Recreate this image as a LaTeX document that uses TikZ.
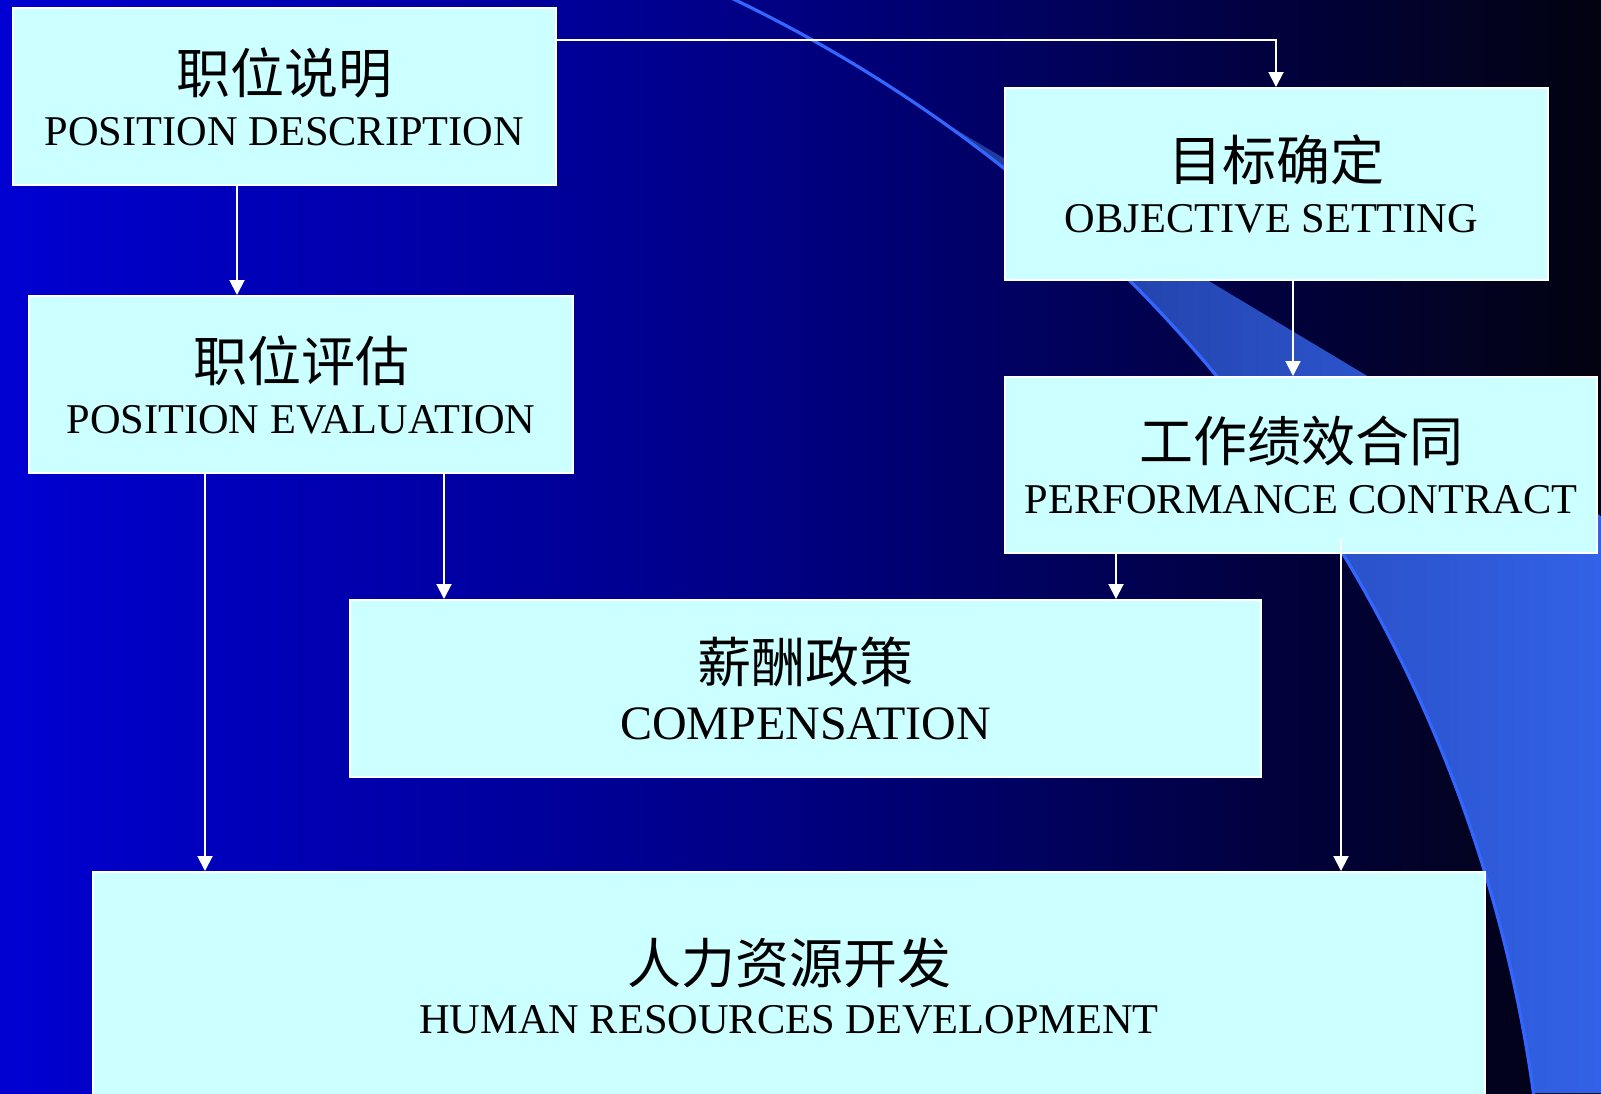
\documentclass[tikz,border=0pt]{standalone}
\usepackage{fontspec}
\setmainfont{Liberation Serif}
\newfontfamily\cjk{Noto Sans CJK SC}
\usetikzlibrary{arrows.meta}
\definecolor{bgA}{RGB}{0,0,210}
\definecolor{bgB}{RGB}{0,0,128}
\definecolor{bgC}{RGB}{2,2,16}
\definecolor{swL}{RGB}{30,56,150}
\definecolor{swR}{RGB}{50,98,232}
\definecolor{arcline}{RGB}{51,102,255}
\definecolor{boxfill}{RGB}{204,255,255}
\newcommand\zh[1]{{\cjk\fontsize{27}{27}\selectfont #1}}
\begin{document}
\begin{tikzpicture}[x=0.5pt,y=-0.5pt,
  box/.style={draw=white, line width=1pt, fill=boxfill, inner sep=0pt,
    align=center, anchor=north west, text=black,
    font=\fontsize{21.2}{26}\selectfont},
  conn/.style={draw=white, line width=1pt, -{Triangle[width=7.5pt,length=7.5pt]}}]
\useasboundingbox (0,0) rectangle (1601,1093);
% background
\shade[left color=bgA, right color=bgB] (0,0) rectangle (801,1093);
\shade[left color=bgB, right color=bgC] (800,0) rectangle (1601,1093);
% swoosh
\shade[left color=swL, right color=swR] (930,114) -- (1601,516) -- (1601,1093) -- (1533,1093)
  arc[start angle=7.95, end angle=55.3, radius=716pt] -- cycle;
\begin{scope}
  \clip (0,0) rectangle (1601,1093);
  \draw[arcline, line width=1.6pt] (115,1291) circle[radius=716pt];
\end{scope}
% boxes
\node[box, minimum width=271.5pt, minimum height=88.5pt] (PD) at (12,7)
  {\zh{职位说明}\\POSITION DESCRIPTION};
\node[box, minimum width=272pt, minimum height=88.5pt] (PE) at (28,295)
  {\zh{职位评估}\\POSITION EVALUATION};
\node[box, minimum width=271.5pt, minimum height=96pt] (OS) at (1004,87)
  {\zh{目标确定}\\OBJECTIVE SETTING\hspace*{5pt}};
\node[box, minimum width=296pt, minimum height=88pt] (PC) at (1004,376)
  {\zh{工作绩效合同}\\PERFORMANCE CONTRACT};
\node[box, minimum width=455.5pt, minimum height=88.5pt,
  font=\fontsize{24}{28.5}\selectfont] (COMP) at (349,599)
  {\zh{薪酬政策}\\COMPENSATION};
\node[box, minimum width=696pt, minimum height=114.5pt,
  font=\fontsize{21.2}{25}\selectfont] (HRD) at (92,871)
  {\zh{人力资源开发}\\HUMAN RESOURCES DEVELOPMENT};
% connectors
\draw[conn] (PD.north east |- 0,40) -| (OS.north -| 1276,0);
\draw[conn] (PD.south -| 237,0) -- (PE.north -| 237,0);
\draw[conn] (PE.south -| 205,0) -- (HRD.north -| 205,0);
\draw[conn] (PE.south -| 444,0) -- (COMP.north -| 444,0);
\draw[conn] (OS.south -| 1293,0) -- (PC.north -| 1293,0);
\draw[conn] (PC.south -| 1116,0) -- (COMP.north -| 1116,0);
\draw[conn] ([yshift=8pt]PC.south -| 1341,0) -- (HRD.north -| 1341,0);
\end{tikzpicture}
\end{document}
